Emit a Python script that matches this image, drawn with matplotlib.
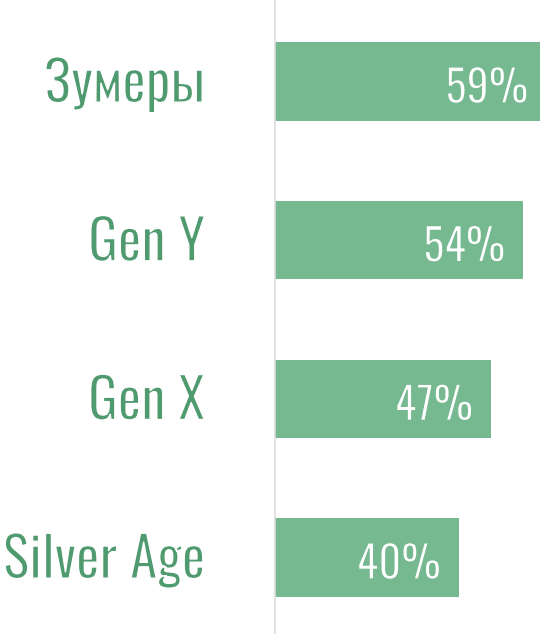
import matplotlib
matplotlib.use("Agg")
import matplotlib.pyplot as plt
import matplotlib.patheffects as pe
from matplotlib.transforms import blended_transform_factory

categories = ["Зумеры", "Gen Y", "Gen X", "Silver Age"]
values = [59, 54, 47, 40]
value_labels = ["59%", "54%", "47%", "40%"]

BAR = "#76b990"
TXT = "#4f9a6f"
FONT = ["Oswald", "DejaVu Sans"]

fig = plt.figure(figsize=(5.4, 6.34), dpi=100)
ax = fig.add_axes([274.8 / 540, 0.0, 1 - 274.8 / 540, 1.0])

y = list(range(len(categories)))
ax.barh(y, values, height=0.495, color=BAR, zorder=2)

ax.set_xlim(0, 57.6)
ax.set_ylim(3.482, -0.514)

for yi, v, lab in zip(y, values, value_labels):
    ax.text(v - 3.9, yi + 0.135, lab, ha="right", va="baseline", color="white",
            fontsize=32, family=FONT, zorder=3,
            path_effects=[pe.Stroke(linewidth=0.9, foreground=BAR)])

trans = blended_transform_factory(ax.transAxes, ax.transData)
for yi, cat in zip(y, categories):
    ax.text(-0.263, yi + 0.13, cat, ha="right", va="baseline", color=TXT,
            fontsize=40, family=FONT, transform=trans, clip_on=False,
            path_effects=[pe.Stroke(linewidth=1.0, foreground="white")])

ax.set_yticks([])
ax.set_xticks([])
for s in ["top", "right", "bottom"]:
    ax.spines[s].set_visible(False)
ax.spines["left"].set_color("#dcdcdc")
ax.spines["left"].set_linewidth(1.2)
ax.set_facecolor("white")

fig.savefig("out.png", dpi=100, facecolor="white")
